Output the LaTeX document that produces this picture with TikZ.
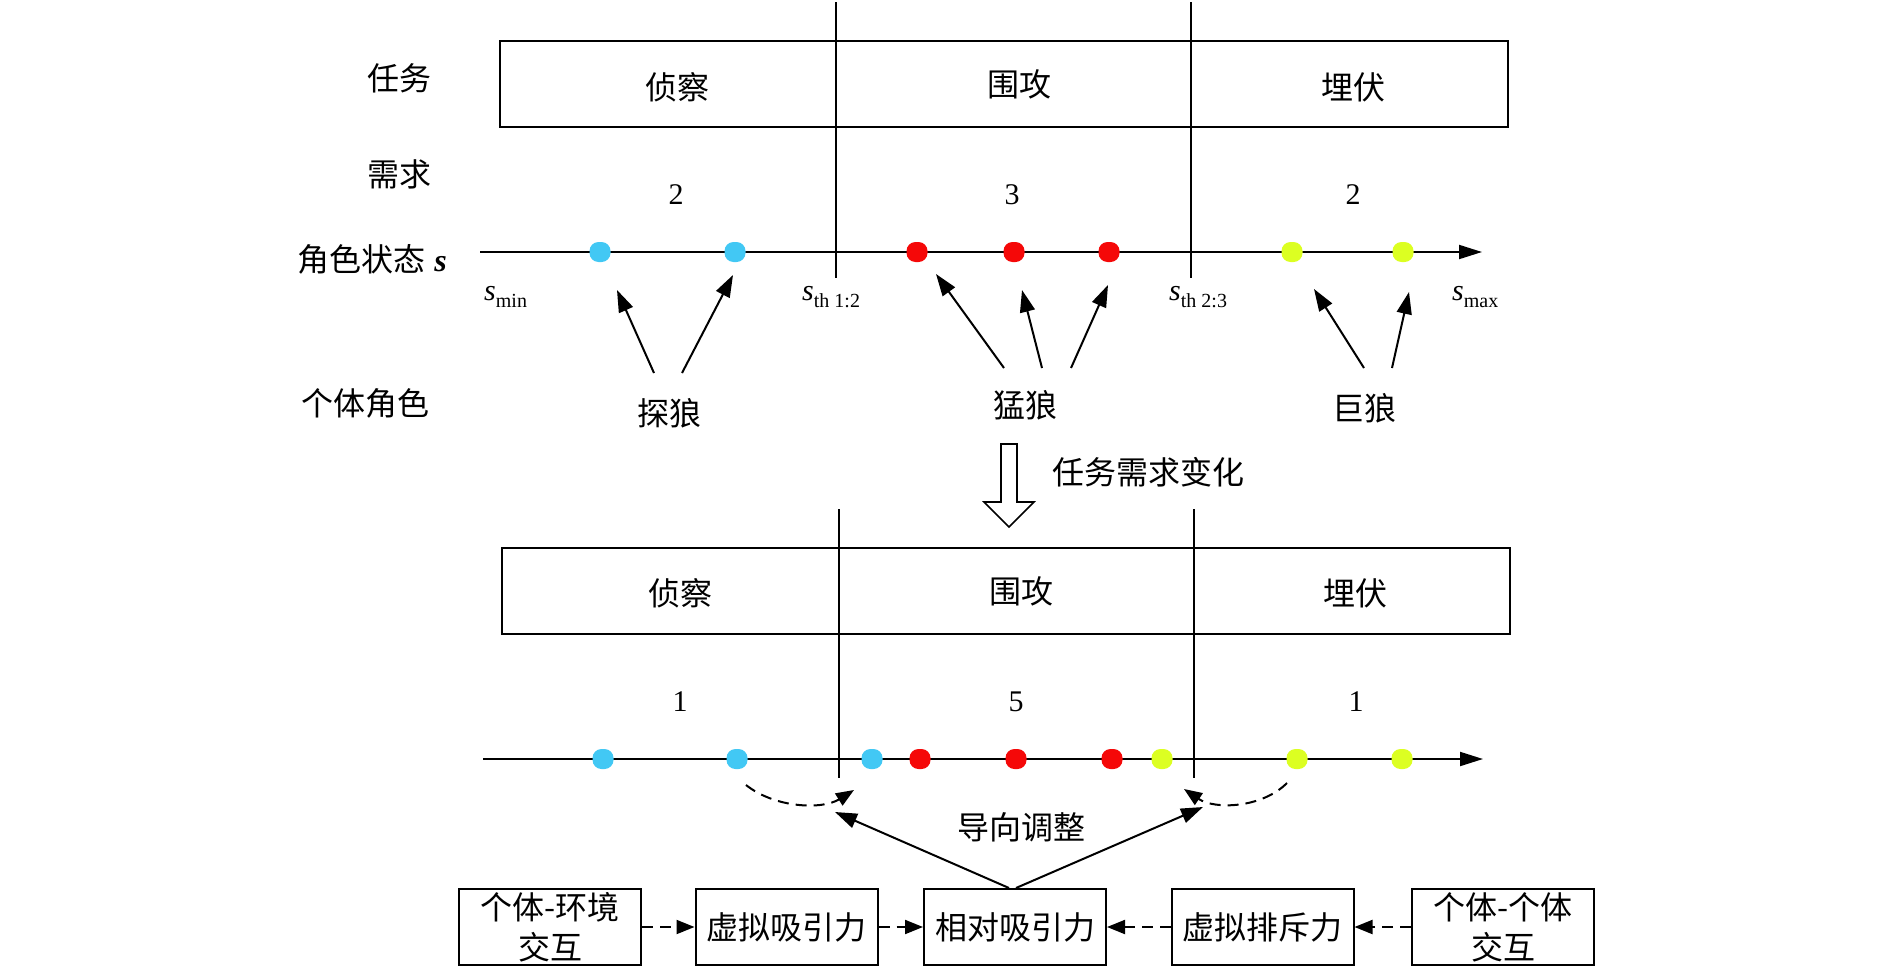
\documentclass[tikz,border=0pt]{standalone}
\usepackage{fontspec}
\setmainfont{Liberation Serif}
\newfontfamily\cjk{Noto Sans CJK SC}
\usetikzlibrary{arrows.meta}
\definecolor{cblue}{RGB}{66,200,244}
\definecolor{cred}{RGB}{245,8,8}
\definecolor{cyel}{RGB}{220,255,34}
\begin{document}
\begin{tikzpicture}[x=1pt,y=-1pt,
  lab/.style={font=\cjk\fontsize{32}{38}\selectfont, inner sep=0pt},
  num/.style={font=\fontsize{30}{36}\selectfont, inner sep=0pt},
  slab/.style={anchor=base west, inner sep=0pt, font=\fontsize{30}{36}\selectfont},
  dotb/.style={rectangle, rounded corners=9pt, minimum width=21pt, minimum height=20pt, inner sep=0pt},
  ln/.style={line width=2pt},
  tbox/.style={draw, line width=2pt, minimum width=1008pt, minimum height=86pt, inner sep=0pt},
  arr/.style={line width=2pt, -{Triangle[length=22pt,width=15pt]}},
  axarr/.style={line width=2pt, -{Triangle[length=23pt,width=14pt]}},
  darr/.style={line width=2pt, dash pattern=on 11pt off 7pt, -{Triangle[length=18pt,width=14pt]}},
  cbox/.style={draw, line width=2pt, minimum width=182pt, minimum height=76pt, inner sep=0pt, align=center, font=\cjk\fontsize{32}{40}\selectfont}
]
\useasboundingbox (0,0) rectangle (1890,969);

% ===== upper part =====
\node[tbox] (task1) at (1004,84) {};
\coordinate (v1t) at (836,2);   \coordinate (v1b) at (836,278);
\coordinate (v2t) at (1191,2);  \coordinate (v2b) at (1191,278);
\draw[ln] (v1t) -- (v1b);
\draw[ln] (v2t) -- (v2b);

\node[lab] (rw) at (399,78) {任务};
\node[lab] (xq) at (399,174) {需求};
\node[lab] (js) at (372,259) {角色状态\hspace{9pt}{\rmfamily\bfseries\itshape s}};
\node[lab] (gt) at (365,403) {个体角色};

\node[lab] (t1a) at (677,87) {侦察};
\node[lab] (t1b) at (1019,84) {围攻};
\node[lab] (t1c) at (1353,87) {埋伏};

\node[num] (n1a) at (676,195) {2};
\node[num] (n1b) at (1012,195) {3};
\node[num] (n1c) at (1353,195) {2};

\coordinate (ax0) at (480,252);
\coordinate (ax1) at (1482,252);
\draw[axarr] (ax0) -- (ax1);

\node[dotb, fill=cblue] (u1) at (600,252) {};
\node[dotb, fill=cblue] (u2) at (735,252) {};
\node[dotb, fill=cred]  (u3) at (917,252) {};
\node[dotb, fill=cred]  (u4) at (1014,252) {};
\node[dotb, fill=cred]  (u5) at (1109,252) {};
\node[dotb, fill=cyel]  (u6) at (1292,252) {};
\node[dotb, fill=cyel]  (u7) at (1403,252) {};

\node[slab] (smin) at (484,300) {\textit{s}\raisebox{-7pt}{\fontsize{20}{24}\selectfont min}};
\node[slab] (sth1) at (802,300) {\textit{s}\raisebox{-7pt}{\fontsize{20}{24}\selectfont th 1:2}};
\node[slab] (sth2) at (1169,300) {\textit{s}\raisebox{-7pt}{\fontsize{20}{24}\selectfont th 2:3}};
\node[slab] (smax) at (1452,300) {\textit{s}\raisebox{-7pt}{\fontsize{20}{24}\selectfont max}};

\node[lab] (tl) at (669,413) {探狼};
\node[lab] (ml) at (1025,405) {猛狼};
\node[lab] (jl) at (1364,408) {巨狼};

\coordinate (a1s) at (654,373); \coordinate (a1e) at (617,290);
\coordinate (a2s) at (682,373); \coordinate (a2e) at (733,275);
\coordinate (b1s) at (1004,368); \coordinate (b1e) at (936,274);
\coordinate (b2s) at (1042,368); \coordinate (b2e) at (1022,290);
\coordinate (b3s) at (1071,368); \coordinate (b3e) at (1108,285);
\coordinate (c1s) at (1364,368); \coordinate (c1e) at (1314,289);
\coordinate (c2s) at (1392,368); \coordinate (c2e) at (1409,292);
\draw[arr] (a1s) -- (a1e);
\draw[arr] (a2s) -- (a2e);
\draw[arr] (b1s) -- (b1e);
\draw[arr] (b2s) -- (b2e);
\draw[arr] (b3s) -- (b3e);
\draw[arr] (c1s) -- (c1e);
\draw[arr] (c2s) -- (c2e);

% ===== hollow arrow =====
\draw[line width=1.6pt, fill=white] (1001,444) -- (1017,444) -- (1017,502) -- (1034,502)
  -- (1009,527) -- (984,502) -- (1001,502) -- cycle;
\node[lab] (bh) at (1148,472) {任务需求变化};

% ===== lower part =====
\node[tbox] (task2) at (1005.5,591) {};
\coordinate (w1t) at (839,509);  \coordinate (w1b) at (839,778);
\coordinate (w2t) at (1194,509); \coordinate (w2b) at (1194,778);
\draw[ln] (w1t) -- (w1b);
\draw[ln] (w2t) -- (w2b);

\node[lab] (t2a) at (680,593) {侦察};
\node[lab] (t2b) at (1021,591) {围攻};
\node[lab] (t2c) at (1355,593) {埋伏};

\node[num] (n2a) at (680,702) {1};
\node[num] (n2b) at (1016,702) {5};
\node[num] (n2c) at (1356,702) {1};

\coordinate (bx0) at (483,759);
\coordinate (bx1) at (1483,759);
\draw[axarr] (bx0) -- (bx1);

\node[dotb, fill=cblue] (d1) at (603,759) {};
\node[dotb, fill=cblue] (d2) at (737,759) {};
\node[dotb, fill=cblue] (d3) at (872,759) {};
\node[dotb, fill=cred]  (d4) at (920,759) {};
\node[dotb, fill=cred]  (d5) at (1016,759) {};
\node[dotb, fill=cred]  (d6) at (1112,759) {};
\node[dotb, fill=cyel]  (d7) at (1162,759) {};
\node[dotb, fill=cyel]  (d8) at (1297,759) {};
\node[dotb, fill=cyel]  (d9) at (1402,759) {};

\coordinate (q1s) at (746,785); \coordinate (q1e) at (854,790);
\coordinate (q2s) at (1287,783); \coordinate (q2e) at (1184,789);
\draw[darr] (q1s) .. controls (775,808) and (822,810) .. (q1e);
\draw[darr] (q2s) .. controls (1262,808) and (1215,810) .. (q2e);

\node[lab] (dx) at (1021,827) {导向调整};

% ===== bottom boxes =====
\node[cbox] (k1) at (550,927) {个体-环境\\交互};
\node[cbox] (k2) at (786.5,927) {虚拟吸引力};
\node[cbox] (k3) at (1015,927) {相对吸引力};
\node[cbox] (k4) at (1262.5,927) {虚拟排斥力};
\node[cbox] (k5) at (1503,927) {个体-个体\\交互};

\draw[darr] (k1) -- (k2);
\draw[darr] (k2) -- (k3);
\draw[darr] (k4) -- (k3);
\draw[darr] (k5) -- (k4);

\coordinate (g1e) at (835,812);
\coordinate (g2e) at (1203,807);
\draw[arr] ([xshift=-6pt]k3.north) -- (g1e);
\draw[arr] ([xshift=1pt]k3.north) -- (g2e);
\end{tikzpicture}
\end{document}
